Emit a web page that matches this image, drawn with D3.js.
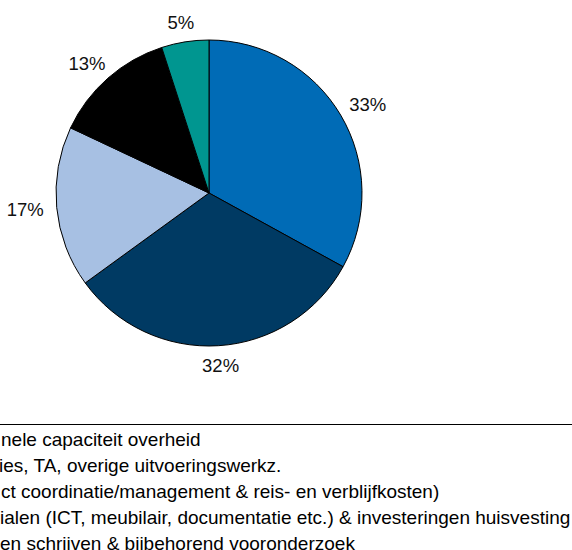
<!DOCTYPE html>
<html><head><meta charset="utf-8">
<script src="https://cdn.jsdelivr.net/npm/d3@7"></script>
<style>body{margin:0;background:#fff;overflow:hidden}svg{display:block}</style>
</head><body>
<script>
const categories = ["Personele capaciteit overheid","Studies, TA, overige uitvoeringswerkz.","Overig (incl. project coordinatie/management & reis- en verblijfkosten)","Materialen (ICT, meubilair, documentatie etc.) & investeringen huisvesting","Voorstellen schrijven & bijbehorend vooronderzoek"];
// slice order clockwise from 12 o'clock
const sliceValues = [33, 32, 17, 13, 5];
const sliceLabels = ["33%", "32%", "17%", "13%", "5%"];
const sliceColors = ["#006BB6", "#003A63", "#A7C0E3", "#000000", "#009690"];
// visible parts of the (cropped) legend lines
const legendTexts = ["nele capaciteit overheid","ies, TA, overige uitvoeringswerkz.","ct coordinatie/management & reis- en verblijfkosten)","ialen (ICT, meubilair, documentatie etc.) & investeringen huisvesting","en schrijven & bijbehorend vooronderzoek"];

const W = 572, H = 550;
const svg = d3.select("body").append("svg").attr("width", W).attr("height", H);
const cx = 209, cy = 193, R = 153;
const font = "'Liberation Sans', Arial, Helvetica, sans-serif";

const pie = d3.pie().sort(null).value(d => d);
const arcs = pie(sliceValues);
const arc = d3.arc().innerRadius(0).outerRadius(R);
const g = svg.append("g").attr("transform", `translate(${cx},${cy})`);
g.selectAll("path").data(arcs).join("path")
  .attr("d", arc).attr("fill", (d, i) => sliceColors[i])
  .attr("stroke", "#000").attr("stroke-width", 1).attr("stroke-linejoin", "round");

const labelR = R + 13;
arcs.forEach((d, i) => {
  const a = (d.startAngle + d.endAngle) / 2;
  const t = g.append("text").text(sliceLabels[i])
    .attr("font-family", font).attr("font-size", 18.5).attr("fill", "#111")
    .attr("text-anchor", "middle");
  const w = t.node().getComputedTextLength();
  const px = Math.sin(a) * labelR + Math.sin(a) * w / 2;
  const py = -Math.cos(a) * labelR - Math.cos(a) * 7;
  t.attr("x", px).attr("y", py + 6.5);
});

svg.append("line").attr("x1", 0).attr("x2", W).attr("y1", 424.5).attr("y2", 424.5)
  .attr("stroke", "#000").attr("stroke-width", 1);

const lx = [1, -1, 1, 0, 0];
legendTexts.forEach((t, i) => {
  svg.append("text").text(t).attr("x", lx[i]).attr("y", 446 + i * 26)
    .attr("font-family", font).attr("font-size", 19).attr("fill", "#000");
});
</script>
</body></html>
